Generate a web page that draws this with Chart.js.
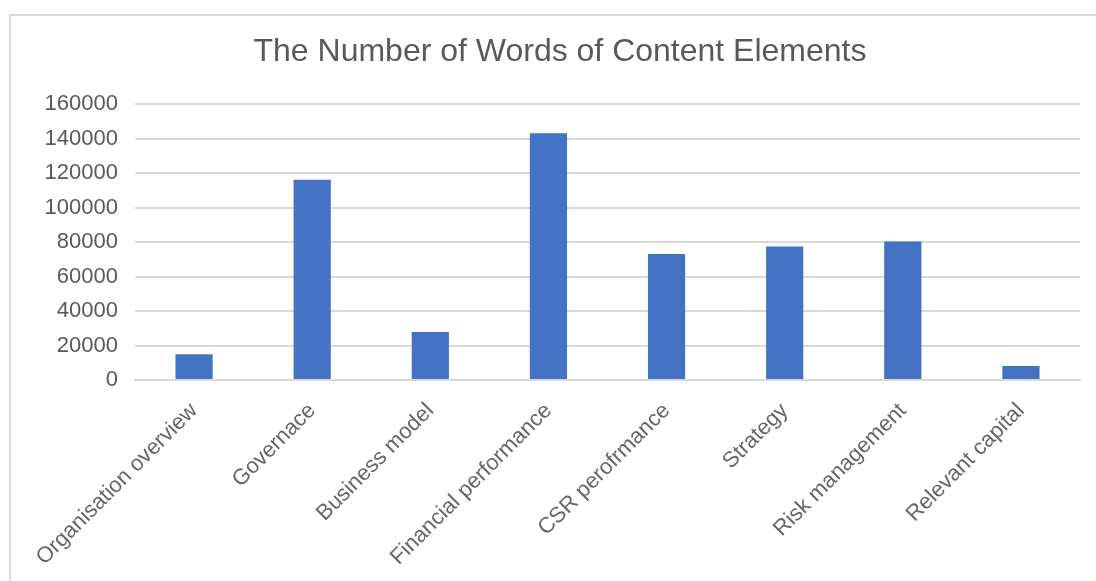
<!DOCTYPE html>
<html>
<head>
<meta charset="utf-8">
<script src="https://cdn.jsdelivr.net/npm/chart.js@4/dist/chart.umd.min.js"></script>
<style>
  html, body { margin: 0; padding: 0; background: #ffffff; overflow: hidden; }
  #wrap { position: relative; width: 1096px; height: 581px; }
  #frame { position: absolute; left: 9px; top: 14px; width: 1200px; height: 700px; border: 2px solid #d9d9d9; box-sizing: border-box; }
  canvas { position: absolute; left: 0; top: 0; }
</style>
</head>
<body>
<div id="wrap">
  <div id="frame"></div>
  <canvas id="c" width="1096" height="581"></canvas>
</div>
<script>
const categories = [
  "Organisation overview",
  "Governace",
  "Business model",
  "Financial performance",
  "CSR perofrmance",
  "Strategy",
  "Risk management",
  "Relevant capital"
];
const wordCounts = [15000, 116200, 27800, 143300, 73200, 77500, 80400, 8100];
const yTicks = [0, 20000, 40000, 60000, 80000, 100000, 120000, 140000, 160000];
const chartTitle = "The Number of Words of Content Elements";

const ctx = document.getElementById('c').getContext('2d');
new Chart(ctx, {
  type: 'bar',
  data: {
    labels: categories,
    datasets: [{
      data: wordCounts,
      backgroundColor: '#4472C4',
      borderColor: '#4472C4',
      borderWidth: 0,
      barPercentage: 0.315,
      categoryPercentage: 1.0
    }]
  },
  options: {
    responsive: false,
    animation: false,
    devicePixelRatio: 1,
    layout: { padding: { left: 40, right: 16, top: 20, bottom: 0 } },
    plugins: {
      legend: { display: false },
      tooltip: { enabled: false },
      title: {
        display: true,
        text: chartTitle,
        color: '#595959',
        font: { family: 'Liberation Sans', size: 32, weight: 'normal' },
        padding: { top: 13, bottom: 33 }
      }
    },
    scales: {
      x: {
        grid: { display: false, drawTicks: false },
        border: { display: true, color: '#d9d9d9', width: 2 },
        ticks: {
          color: '#666666',
          font: { family: 'Liberation Sans', size: 22 },
          minRotation: 45,
          maxRotation: 45,
          padding: 18,
          autoSkip: false
        },
        afterFit: (s) => { s.height = 201; }
      },
      y: {
        min: 0,
        max: 160000,
        afterBuildTicks: (s) => { s.ticks = yTicks.map(v => ({ value: v })); },
        grid: { color: '#d9d9d9', lineWidth: 2, drawTicks: false },
        border: { display: false },
        ticks: {
          color: '#595959',
          font: { family: 'Liberation Sans', size: 22 },
          padding: 17,
          callback: (v) => String(v)
        },
        afterFit: (s) => { s.width = 95; }
      }
    }
  }
});
</script>
</body>
</html>
